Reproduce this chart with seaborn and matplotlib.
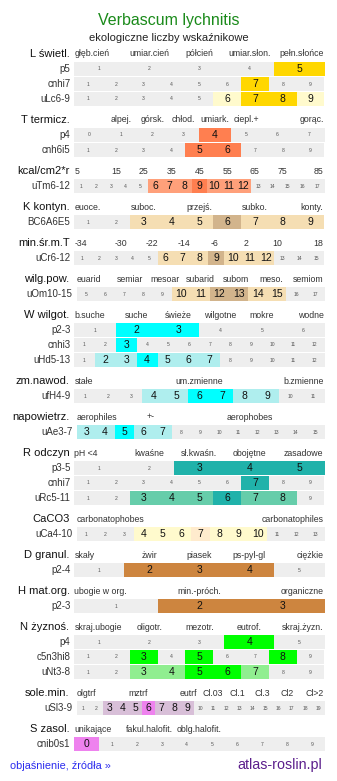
import numpy as np
import matplotlib.pyplot as plt
import seaborn as sns

sns.set_theme(style="white")
plt.rcParams['font.family'] = ['Liberation Sans', 'DejaVu Sans']

# kolory
GRAY = "#EEEEEE"
GOLD, LEMON = "#FFD700", "#FFFACD"
CORAL, SALMON = "#FF7F50", "#FFA07A"
TAN, WHEAT = "#D2B48C", "#F5DEB3"
CYAN, PALETURQ = "#00FFFF", "#AFEEEE"
SEAGREEN, AQUAM = "#20B2AA", "#66CDAA"
ALMOND = "#FFEBCD"
PERU = "#CD853F"
LIME, LGREEN = "#00FF00", "#90EE90"
VIOLET, THISTLE = "#EE82EE", "#D8BFD8"

# 1. dane - L swietl.
L_head = ["głęb.cień", "umiar.cień", "półcień", "umiar.słon.", "pełn.słońce"]
L_rows = ["p5", "cnhi7", "uLc6-9"]
L_cells = [[1, 2, 3, 4, 5], [1, 2, 3, 4, 5, 6, 7, 8, 9], [1, 2, 3, 4, 5, 6, 7, 8, 9]]
L_strong = [[5], [7], [7, 8]]
L_weak = [[], [], [6, 9]]

# T termicz.
T_head = ["", "alpej.", "górsk.", "chłod.", "umiark.", "ciepl.+", "", "gorąc."]
T_rows = ["p4", "cnh6i5"]
T_cells = [[0, 1, 2, 3, 4, 5, 6, 7], [1, 2, 3, 4, 5, 6, 7, 8, 9]]
T_strong = [[4], [5, 6]]
T_weak = [[], []]

# kcal/cm2*r
E_head = ["5", "15", "25", "35", "45", "55", "65", "75", "85"]
E_rows = ["uTm6-12"]
E_cells = [[1, 2, 3, 4, 5, 6, 7, 8, 9, 10, 11, 12, 13, 14, 15, 16, 17]]
E_strong = [[9]]
E_weak = [[6, 7, 8, 10, 11, 12]]

# K kontyn.
K_head = ["euoce.", "", "suboc.", "", "przejś.", "", "subko.", "", "konty."]
K_rows = ["BC6A6E5"]
K_cells = [[1, 2, 3, 4, 5, 6, 7, 8, 9]]
K_strong = [[6]]
K_weak = [[3, 4, 5, 7, 8, 9]]

# min.sr.m.T
M_head = ["-34", "-30", "-22", "-14", "-6", "2", "10", "18"]
M_rows = ["uCr6-12"]
M_cells = [[1, 2, 3, 4, 5, 6, 7, 8, 9, 10, 11, 12, 13, 14, 15]]
M_strong = [[9]]
M_weak = [[6, 7, 8, 10, 11, 12]]

# wilg.pow.
O_head = ["euarid", "semiar", "mesoar", "subarid", "subom", "meso.", "semiom"]
O_rows = ["uOm10-15"]
O_cells = [[5, 6, 7, 8, 9, 10, 11, 12, 13, 14, 15, 16, 17]]
O_strong = [[12, 13]]
O_weak = [[10, 11, 14, 15]]

# W wilgot.
W_head = ["b.suche", "suche", "świeże", "wilgotne", "mokre", "wodne"]
W_rows = ["p2-3", "cnhi3", "uHd5-13"]
W_cells = [[1, 2, 3, 4, 5, 6], [1, 2, 3, 4, 5, 6, 7, 8, 9, 10, 11, 12],
           [1, 2, 3, 4, 5, 6, 7, 8, 9, 10, 11, 12]]
W_strong = [[2, 3], [3], [4]]
W_weak = [[], [], [2, 3, 5, 6, 7]]

# zm.nawod.
Z_head = ["stałe", "um.zmienne", "b.zmienne"]
Z_rows = ["ufH4-9"]
Z_cells = [[1, 2, 3, 4, 5, 6, 7, 8, 9, 10, 11]]
Z_strong = [[6, 7]]
Z_weak = [[4, 5, 8, 9]]

# napowietrz.
A_head = ["aerophiles", "+-", "", "aerophobes", ""]
A_rows = ["uAe3-7"]
A_cells = [[3, 4, 5, 6, 7, 8, 9, 10, 11, 12, 13, 14, 15]]
A_strong = [[5]]
A_weak = [[3, 4, 6, 7]]

# R odczyn
R_head = ["pH <4", "kwaśne", "sł.kwaśn.", "obojętne", "zasadowe"]
R_rows = ["p3-5", "cnhi7", "uRc5-11"]
R_cells = [[1, 2, 3, 4, 5], [1, 2, 3, 4, 5, 6, 7, 8, 9], [1, 2, 3, 4, 5, 6, 7, 8, 9]]
R_strong = [[3, 4, 5], [7], [6]]
R_weak = [[], [], [3, 4, 5, 7, 8]]

# CaCO3
C_head = ["carbonatophobes", "carbonatophiles"]
C_rows = ["uCa4-10"]
C_cells = [[1, 2, 3, 4, 5, 6, 7, 8, 9, 10, 11, 12, 13]]
C_strong = [[7]]
C_weak = [[4, 5, 6, 8, 9, 10]]

# D granul.
D_head = ["skały", "żwir", "piasek", "ps-pyl-gl", "ciężkie"]
D_rows = ["p2-4"]
D_cells = [[1, 2, 3, 4, 5]]
D_strong = [[2, 3, 4]]
D_weak = [[]]

# H mat.org.
H_head = ["ubogie w org.", "min.-próch.", "organiczne"]
H_rows = ["p2-3"]
H_cells = [[1, 2, 3]]
H_strong = [[2, 3]]
H_weak = [[]]

# N zyznos.
N_head = ["skraj.ubogie", "oligotr.", "mezotr.", "eutrof.", "skraj.żyzn."]
N_rows = ["p4", "c5n3hi8", "uNt3-8"]
N_cells = [[1, 2, 3, 4, 5], [1, 2, 3, 4, 5, 6, 7, 8, 9], [1, 2, 3, 4, 5, 6, 7, 8, 9]]
N_strong = [[4], [3, 5, 8], [5, 6]]
N_weak = [[], [], [3, 4, 7]]

# sole.min.
S_head = ["olgtrf", "", "mztrf", "", "eutrf", "Cl.03", "Cl.1", "Cl.3", "Cl2", "Cl>2"]
S_rows = ["uSl3-9"]
S_cells = [[1, 2, 3, 4, 5, 6, 7, 8, 9, 10, 11, 12, 13, 14, 15, 16, 17, 18, 19]]
S_strong = [[6]]
S_weak = [[3, 4, 5, 7, 8, 9]]

# S zasol.
Q_head = ["unikające", "fakul.halofit.", "oblg.halofit.", "", ""]
Q_rows = ["cnib0s1"]
Q_cells = [[0, 1, 2, 3, 4, 5, 6, 7, 8, 9]]
Q_strong = [[0]]
Q_weak = [[]]

sections = [
    ("L świetl.", L_head, L_rows, L_cells, L_strong, L_weak, LEMON, GOLD, False),
    ("T termicz.", T_head, T_rows, T_cells, T_strong, T_weak, SALMON, CORAL, False),
    ("kcal/cm2*r", E_head, E_rows, E_cells, E_strong, E_weak, SALMON, CORAL, False),
    ("K kontyn.", K_head, K_rows, K_cells, K_strong, K_weak, WHEAT, TAN, False),
    ("min.śr.m.T", M_head, M_rows, M_cells, M_strong, M_weak, WHEAT, TAN, False),
    ("wilg.pow.", O_head, O_rows, O_cells, O_strong, O_weak, WHEAT, TAN, True),
    ("W wilgot.", W_head, W_rows, W_cells, W_strong, W_weak, PALETURQ, CYAN, False),
    ("zm.nawod.", Z_head, Z_rows, Z_cells, Z_strong, Z_weak, PALETURQ, CYAN, False),
    ("napowietrz.", A_head, A_rows, A_cells, A_strong, A_weak, PALETURQ, CYAN, True),
    ("R odczyn", R_head, R_rows, R_cells, R_strong, R_weak, AQUAM, SEAGREEN, False),
    ("CaCO3", C_head, C_rows, C_cells, C_strong, C_weak, LEMON, ALMOND, True),
    ("D granul.", D_head, D_rows, D_cells, D_strong, D_weak, PERU, PERU, False),
    ("H mat.org.", H_head, H_rows, H_cells, H_strong, H_weak, PERU, PERU, False),
    ("N żyznoś.", N_head, N_rows, N_cells, N_strong, N_weak, LGREEN, LIME, False),
    ("sole.min.", S_head, S_rows, S_cells, S_strong, S_weak, THISTLE, VIOLET, True),
    ("S zasol.", Q_head, Q_rows, Q_cells, Q_strong, Q_weak, VIOLET, VIOLET, False),
]

# 2. rysunek
fig = plt.figure(figsize=(3.37, 7.81), dpi=100)
ax = fig.add_axes([0, 0, 1, 1])
ax.set_xlim(0, 337)
ax.set_ylim(781, 0)
ax.axis('off')

ax.text(168.5, 20, "Verbascum lychnitis", ha='center', va='center',
        fontsize=11.5, color="#1a8a1a")
ax.text(168.5, 38, "ekologiczne liczby wskaźnikowe", ha='center', va='center',
        fontsize=8, color="#222222")

PITCH = 15
y_head = 54
for title, head, rows, cells, strong, weak, c_weak, c_strong, wide in sections:
    x0 = 76.5 if wide else 74
    x1 = 324.5
    xl = 72.5 if wide else 70.5
    ax.text(69.5, y_head, title, ha='right', va='center', fontsize=8, color="#111111")

    # naglowki kategorii
    edges = np.linspace(x0, x1, len(head) + 1)
    for i, lab in enumerate(head):
        if i == 0:
            ax.text(x0 + 0.5, y_head, lab, ha='left', va='center', fontsize=6.3, color="#333333")
        elif i == len(head) - 1:
            ax.text(x1 - 1, y_head, lab, ha='right', va='center', fontsize=6.3, color="#333333")
        else:
            ax.text((edges[i] + edges[i + 1]) / 2, y_head, lab, ha='center', va='center',
                    fontsize=6.3, color="#333333")

    for r, name in enumerate(rows):
        yc = y_head + PITCH * (r + 1)
        vals = cells[r]
        e = np.linspace(x0, x1, len(vals) + 1)
        w = e[1] - e[0]
        cols = []
        for v in vals:
            if v in strong[r]:
                cols.append(c_strong)
            elif v in weak[r]:
                cols.append(c_weak)
            else:
                cols.append(GRAY)
        ax.barh([yc] * len(vals), [w] * len(vals), left=e[:-1], height=14.4,
                color=cols, linewidth=0)
        for k, v in enumerate(vals):
            cx = (e[k] + e[k + 1]) / 2
            if cols[k] == GRAY:
                ax.text(cx, yc, str(v), ha='center', va='center', fontsize=3.6, color="#555555")
            else:
                ax.text(cx, yc + 0.3, str(v), ha='center', va='center', fontsize=7.5, color="#111111")
        ax.text(xl, yc, name, ha='right', va='center', fontsize=7, color="#333333")

    y_head += PITCH * len(rows) + 21

ax.text(10, 766, "objaśnienie, źródła »", ha='left', va='center', fontsize=7.8, color="#2b2bee")
ax.text(322, 765, "atlas-roslin.pl", ha='right', va='center', fontsize=10.3, color="#5b1e8c")

fig.savefig("out.png", dpi=100)
